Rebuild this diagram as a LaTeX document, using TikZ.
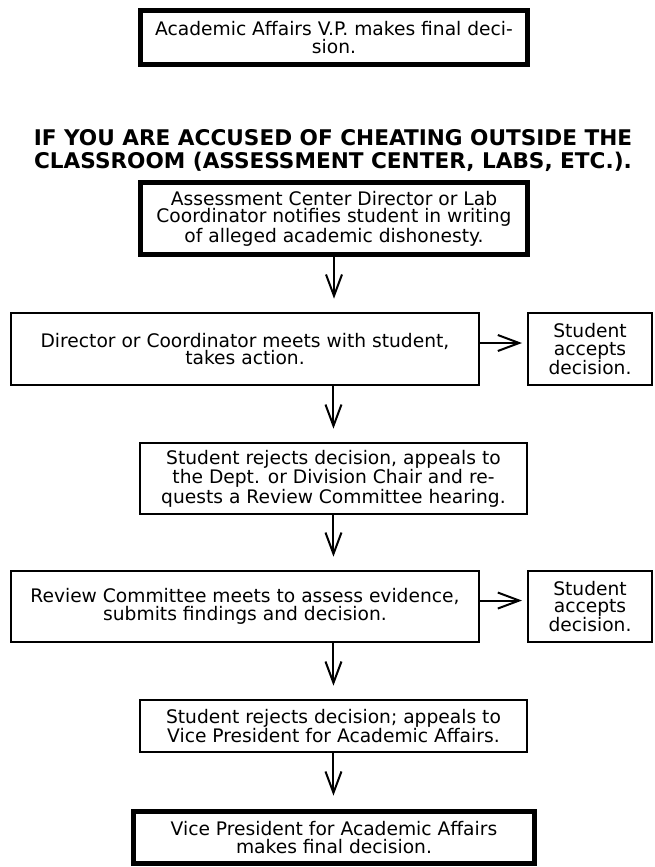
\documentclass[tikz,border=0pt]{standalone}
\usepackage{fontspec}
\setmainfont{DejaVu Sans}
\usepackage{tikz}
\usetikzlibrary{positioning,calc,arrows.meta}
\tikzset{
    stepbox/.style={draw=black, line width=1.5pt, fill=white, align=center, inner sep=0pt, font=\fontsize{14}{13.2}\selectfont},
    finalbox/.style={stepbox, line width=3.5pt},
    flowarrow/.style={draw=black, line width=1.5pt, -{Straight Barb[length=16pt,width=12pt]}}
}

\begin{document}
\begin{tikzpicture}[x=1pt, y=-1pt,
        % Tiêu đề in đậm, hai dòng
        headline/.style={
            font=\fontsize{16.2}{17.25}\selectfont\bfseries,
            align=center,
            inner sep=0pt
        },
        % Hộp bên phải (Student accepts decision.)
        sidebox/.style={
            stepbox,
            minimum width=93pt,
            minimum height=54pt
        },
        % Mũi tên xuống giữa các hộp
        downarrow/.style={flowarrow, shorten >=10pt},
        % Mũi tên ngang sang hộp bên phải
        sidearrow/.style={flowarrow, shorten >=3.75pt}
    ]
        \useasboundingbox (0,0) rectangle (491.25,650.25);

        % --- 1. HỘP TRÊN CÙNG ---
        \node[finalbox, minimum width=290.5pt, minimum height=40.75pt] (vptop) at (250.5,28.1)
            {Academic Affairs V.P. makes final deci-\\sion.};

        % --- 2. TIÊU ĐỀ ---
        \node[headline] (title) at (249.75,112.7)
            {IF YOU ARE ACCUSED OF CHEATING OUTSIDE THE\\CLASSROOM (ASSESSMENT CENTER, LABS, ETC.).};

        % --- 3. CÁC BƯỚC ---
        \node[finalbox, minimum width=290.5pt, minimum height=54.25pt] (notify) at (250.5,163.9)
            {Assessment Center Director or Lab\\Coordinator notifies student in writing\\of alleged academic dishonesty.};
        \node[stepbox, minimum width=351pt, minimum height=54pt] (meet) at (183.75,261.75)
            {Director or Coordinator meets with student,\\takes action.};
        \node[sidebox] (accept1) at (442.5,261.75) {Student\\accepts\\decision.};
        \node[stepbox, minimum width=290.25pt, minimum height=53.25pt] (appeal) at (250.1,358.9)
            {Student rejects decision, appeals to\\the Dept. or Division Chair and re-\\quests a Review Committee hearing.};
        \node[stepbox, minimum width=351pt, minimum height=53.25pt] (review) at (183.75,454.9)
            {Review Committee meets to assess evidence,\\submits findings and decision.};
        \node[sidebox, minimum height=53.25pt] (accept2) at (442.5,454.9) {Student\\accepts\\decision.};
        \node[stepbox, minimum width=290.25pt, minimum height=39pt] (appealvp) at (250.1,544.5)
            {Student rejects decision; appeals to\\Vice President for Academic Affairs.};
        \node[finalbox, minimum width=301pt, minimum height=39.25pt] (vpfinal) at (250.5,628.1)
            {Vice President for Academic Affairs\\makes final decision.};

        % --- 4. MŨI TÊN ---
        \draw[downarrow] (notify.south) -- (notify.south |- meet.north);
        \draw[downarrow] (appeal.north |- meet.south) -- (appeal.north);
        \draw[downarrow] (appeal.south) -- (appeal.south |- review.north);
        \draw[downarrow] (appealvp.north |- review.south) -- (appealvp.north);
        \draw[downarrow] (appealvp.south) -- (appealvp.south |- vpfinal.north);

        \draw[sidearrow] ([yshift=4.5pt]meet.east) -- ([yshift=4.5pt]accept1.west);
        \draw[sidearrow] ([yshift=4.5pt]review.east) -- ([yshift=4.5pt]accept2.west);

    \end{tikzpicture}
\end{document}
